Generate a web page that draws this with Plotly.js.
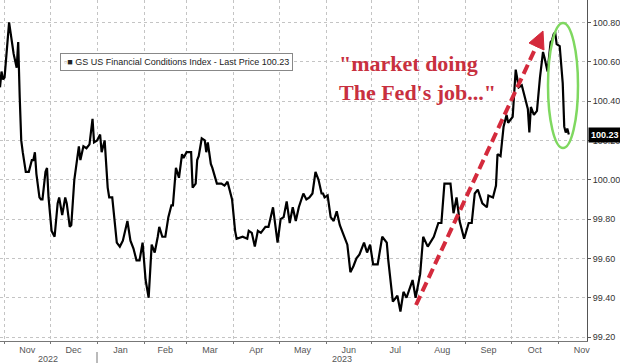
<!DOCTYPE html>
<html><head><meta charset="utf-8">
<script src="https://cdn.plot.ly/plotly-3.0.1.min.js"></script>
<style>html,body{margin:0;padding:0;background:#fff}#chart{width:620px;height:363px}</style>
</head><body><div id="chart"></div>
<script>
const dates = [
"2022-10-29","2022-10-30","2022-10-31","2022-11-01","2022-11-04","2022-11-06","2022-11-07","2022-11-09","2022-11-10","2022-11-11",
"2022-11-12","2022-11-13","2022-11-15","2022-11-17","2022-11-19","2022-11-20","2022-11-21","2022-11-22","2022-11-24","2022-11-25",
"2022-11-26","2022-11-28","2022-11-29","2022-11-30","2022-12-02","2022-12-04","2022-12-06","2022-12-07","2022-12-09","2022-12-11",
"2022-12-12","2022-12-14","2022-12-15","2022-12-17","2022-12-19","2022-12-20","2022-12-21","2022-12-23","2022-12-25","2022-12-27",
"2022-12-29","2022-12-30","2023-01-01","2023-01-03","2023-01-04","2023-01-06","2023-01-08","2023-01-09","2023-01-11","2023-01-14",
"2023-01-16","2023-01-18","2023-01-21","2023-01-23","2023-01-25","2023-01-27","2023-01-29","2023-01-31","2023-02-02","2023-02-04",
"2023-02-06","2023-02-08","2023-02-10","2023-02-11","2023-02-13","2023-02-15","2023-02-17","2023-02-19","2023-02-20","2023-02-22",
"2023-02-24","2023-02-26","2023-02-27","2023-03-01","2023-03-04","2023-03-05","2023-03-07","2023-03-08","2023-03-09","2023-03-11",
"2023-03-13","2023-03-14","2023-03-15","2023-03-17","2023-03-18","2023-03-21","2023-03-24","2023-03-26","2023-03-28","2023-03-31",
"2023-04-02","2023-04-03","2023-04-07","2023-04-10","2023-04-11","2023-04-13","2023-04-15","2023-04-17","2023-04-19","2023-04-22",
"2023-04-24","2023-04-27","2023-04-30","2023-05-02","2023-05-04","2023-05-06","2023-05-08","2023-05-10","2023-05-12","2023-05-14",
"2023-05-17","2023-05-19","2023-05-21","2023-05-23","2023-05-25","2023-05-27","2023-05-29","2023-05-30","2023-05-31","2023-06-02",
"2023-06-04","2023-06-06","2023-06-08","2023-06-10","2023-06-12","2023-06-15","2023-06-17","2023-06-19","2023-06-21","2023-06-23",
"2023-06-26","2023-06-28","2023-06-30","2023-07-02","2023-07-05","2023-07-08","2023-07-11","2023-07-12","2023-07-15","2023-07-18",
"2023-07-20","2023-07-22","2023-07-24","2023-07-26","2023-07-28","2023-07-30","2023-08-02","2023-08-04","2023-08-07","2023-08-11",
"2023-08-14","2023-08-16","2023-08-18","2023-08-22","2023-08-24","2023-08-26","2023-08-28","2023-08-31","2023-09-03","2023-09-05",
"2023-09-07","2023-09-09","2023-09-12","2023-09-15","2023-09-16","2023-09-19","2023-09-21","2023-09-22","2023-09-24","2023-09-26",
"2023-09-28","2023-09-29","2023-10-02","2023-10-04","2023-10-06","2023-10-08","2023-10-10","2023-10-12","2023-10-13","2023-10-14",
"2023-10-16","2023-10-18","2023-10-20","2023-10-22","2023-10-23","2023-10-25","2023-10-27","2023-10-28","2023-10-29","2023-10-30",
"2023-10-31","2023-11-02","2023-11-04","2023-11-05","2023-11-06","2023-11-07","2023-11-08"
];
const values = [
100.47,100.55,100.51,100.52,100.80,100.68,100.64,100.57,100.70,100.42,
100.20,100.14,100.04,100.04,100.10,100.10,100.14,100.03,99.91,99.90,
99.90,100.04,100.06,99.91,99.74,99.71,99.88,99.91,99.82,99.91,
99.88,99.76,99.77,100.00,100.12,100.17,100.10,100.17,100.16,100.18,
100.31,100.19,100.20,100.23,100.14,100.20,99.96,99.91,99.91,99.68,
99.66,99.69,99.79,99.69,99.65,99.59,99.59,99.68,99.49,99.40,
99.67,99.63,99.71,99.76,99.71,99.71,99.81,99.87,99.87,100.06,
100.01,100.13,100.11,100.14,100.14,99.96,99.98,100.10,100.12,100.21,
100.20,100.14,100.19,100.08,100.06,99.98,99.98,99.97,99.99,99.90,
99.74,99.70,99.71,99.70,99.74,99.73,99.66,99.74,99.73,99.76,
99.76,99.86,99.68,99.80,99.81,99.89,99.78,99.86,99.79,99.86,
99.93,99.90,99.91,99.93,100.04,100.00,99.93,99.93,99.91,99.92,
99.81,99.79,99.84,99.77,99.73,99.67,99.53,99.56,99.60,99.62,
99.68,99.63,99.67,99.57,99.57,99.71,99.68,99.59,99.38,99.41,
99.33,99.43,99.40,99.44,99.49,99.40,99.52,99.71,99.66,99.71,
99.78,99.78,99.98,99.98,99.83,99.91,99.79,99.70,99.78,99.78,
99.93,99.95,99.88,99.86,99.92,99.91,99.97,100.13,100.12,100.27,
100.33,100.29,100.32,100.56,100.47,100.48,100.42,100.36,100.24,100.37,
100.33,100.35,100.52,100.65,100.62,100.55,100.70,100.71,100.74,100.75,
100.69,100.68,100.49,100.27,100.24,100.26,100.23
];
const seriesName = "GS US Financial Conditions Index - Last Price 100.23";
const lastPrice = "100.23";
const yearLabels = ["2022", "2023"];
const quoteText = "\"market doing<br>The Fed's job...\"";

const W = 587, H = 341; // plot area pixels
const px = v => v / W, py = v => 1 - v / H;
const red = "#d42a3c";

const trace = {
  x: dates, y: values, type: "scatter", mode: "lines",
  line: {color: "#000", width: 2.2}, name: seriesName, showlegend: false,
  hoverinfo: "x+y"
};

const layout = {
  width: 620, height: 363,
  margin: {l: 0, r: 33, t: 0, b: 22, pad: 0},
  paper_bgcolor: "#fff", plot_bgcolor: "#fff",
  font: {family: "Liberation Sans, Arial, sans-serif", size: 9, color: "#444"},
  xaxis: {
    type: "date", range: ["2022-10-29", "2023-11-20"],
    tick0: "2022-11-01", dtick: "M1", ticklabelmode: "period", tickformat: "%b",
    ticks: "outside", ticklen: 2, tickcolor: "#777", ticklabelstandoff: -2,
    showline: true, linecolor: "#777", linewidth: 1,
    showgrid: true, gridcolor: "#c4c4c4", griddash: "dot", gridwidth: 1,
    zeroline: false, tickfont: {size: 9, color: "#555"}
  },
  yaxis: {
    side: "right", range: [99.18, 100.914], tick0: 99.2, dtick: 0.2, tickformat: ".2f",
    ticks: "outside", ticklen: 3, tickcolor: "#555",
    showline: true, linecolor: "#555", linewidth: 1,
    showgrid: true, gridcolor: "#c4c4c4", griddash: "dot", gridwidth: 1,
    zeroline: false, tickfont: {size: 9, color: "#333"}
  },
  shapes: [
    {type: "line", xref: "paper", yref: "paper", x0: px(416), y0: py(305), x1: px(536.7), y1: py(45.6),
     line: {color: red, width: 4, dash: "10px,5px"}},
    {type: "path", xref: "paper", yref: "paper",
     path: `M${px(543)},${py(31)} L${px(544)},${py(50)} L${px(529)},${py(43)} Z`,
     fillcolor: red, line: {color: red, width: 1}},
    {type: "circle", xref: "paper", yref: "paper", x0: px(548), x1: px(578), y0: py(148), y1: py(23),
     line: {color: "#7fd860", width: 2.5}},
    {type: "line", xref: "paper", yref: "paper", x0: px(97), x1: px(97), y0: py(352), y1: py(363),
     line: {color: "#777", width: 1}}
  ],
  annotations: [
    {xref: "paper", yref: "paper", x: px(60), y: py(61.5), xanchor: "left", yanchor: "middle",
     text: "<span style='color:#aaa'>▫</span>■ " + seriesName, showarrow: false,
     font: {size: 9, color: "#222"}, bgcolor: "#fff", bordercolor: "#888", borderwidth: 1, borderpad: 3},
    {xref: "paper", yref: "y", x: 1, xshift: 1, y: parseFloat(lastPrice), xanchor: "left", yanchor: "middle",
     text: "<b>" + lastPrice + "</b>", showarrow: false, font: {size: 9, color: "#fff"},
     bgcolor: "#000", borderpad: 2},
    {xref: "paper", yref: "paper", x: px(337), y: py(78), xanchor: "left", yanchor: "middle",
     text: "<b>" + quoteText + "</b>", showarrow: false, align: "left",
     font: {family: "Liberation Serif, Times New Roman, serif", size: 22, color: "#c8303f"}},
    {xref: "paper", yref: "paper", x: px(48), y: py(358.5), text: yearLabels[0], showarrow: false,
     xanchor: "center", yanchor: "middle", font: {size: 9, color: "#555"}},
    {xref: "paper", yref: "paper", x: px(342), y: py(358.5), text: yearLabels[1], showarrow: false,
     xanchor: "center", yanchor: "middle", font: {size: 9, color: "#555"}}
  ]
};
Plotly.newPlot("chart", [trace], layout, {displayModeBar: false, staticPlot: true});
</script></body></html>
